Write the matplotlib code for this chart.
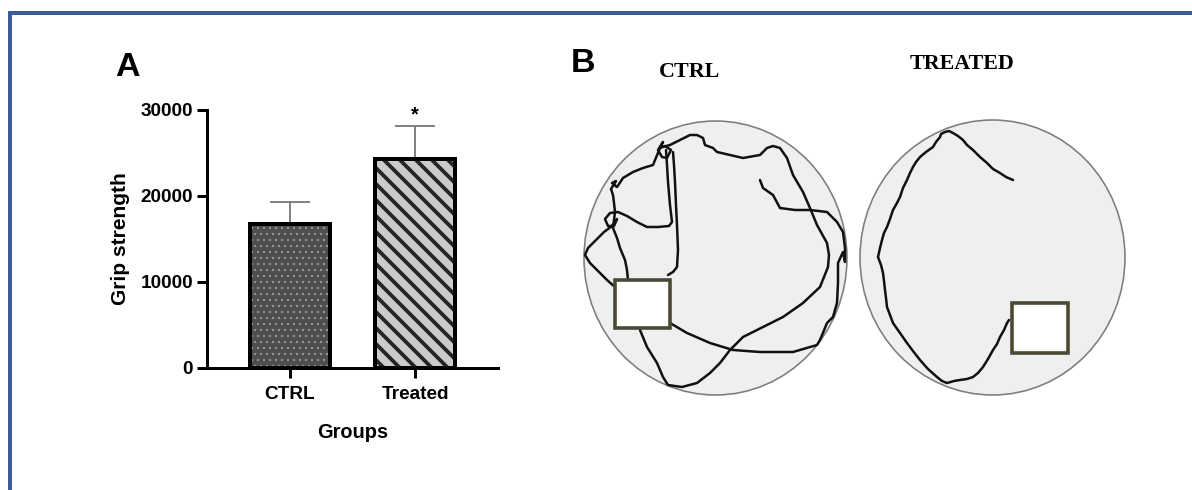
import matplotlib
matplotlib.use("Agg")
import matplotlib.pyplot as plt
from matplotlib.patches import Ellipse, Rectangle
from matplotlib.lines import Line2D

# ---------------- data ----------------
groups = ["CTRL", "Treated"]
grip_mean = [16700, 24300]
grip_err = [2600, 3850]
y_ticks = [0, 10000, 20000, 30000]

# open-field tracking traces (image pixel coordinates)
ctrl_trace1_x = [640, 647, 657, 663, 668, 682, 697, 710, 720, 730, 743, 763, 783, 803, 820, 828, 829,
                 827, 817, 810, 803, 793, 787, 780, 773, 767, 760, 743, 730, 717, 713, 705, 703, 697,
                 690, 680, 670, 663]
ctrl_trace1_y = [330, 347, 363, 377, 385, 387, 383, 373, 363, 350, 337, 327, 317, 303, 287, 267, 255,
                 243, 225, 208, 192, 175, 158, 148, 146, 148, 155, 158, 155, 152, 148, 145, 138, 135,
                 135, 140, 145, 147]
ctrl_trace2_x = [666, 667, 668, 670, 672, 669, 658, 647, 637, 627, 618, 610, 605, 608, 614, 617,
                 612, 604, 596, 588, 585, 590, 597, 607, 615]
ctrl_trace2_y = [150, 165, 182, 205, 222, 226, 227, 227, 222, 216, 212, 213, 219, 226, 226, 219,
                 226, 232, 240, 248, 255, 263, 270, 280, 287]
ctrl_trace3_x = [673, 674, 675, 676, 677, 678, 677, 673, 668]
ctrl_trace3_y = [152, 165, 182, 205, 225, 250, 267, 272, 275]
ctrl_trace4_x = [660, 663, 658, 662, 667, 671, 665, 660, 653, 643, 633, 623, 617, 612, 616, 611,
                 613, 614, 615, 613, 617, 620, 625, 627, 628]
ctrl_trace4_y = [148, 142, 150, 157, 158, 150, 146, 148, 165, 168, 172, 178, 187, 183, 181, 189,
                 195, 203, 212, 228, 238, 248, 260, 270, 280]
ctrl_trace5_x = [760, 763, 773, 780, 795, 810, 827, 837, 843, 845, 845, 843, 838, 838, 837, 833,
                 827, 820, 817, 793, 760, 733, 710, 687, 670]
ctrl_trace5_y = [180, 188, 195, 208, 210, 210, 212, 222, 232, 248, 262, 252, 263, 283, 303, 317,
                 323, 340, 345, 352, 352, 350, 343, 333, 323]

treat_trace_x = [1013, 1006, 1000, 993, 987, 980, 973, 967, 963, 958, 953, 949, 945, 941, 940, 936,
                 933, 926, 920, 916, 913, 910, 907, 903, 900, 897, 893, 890, 887, 884, 882, 880,
                 878, 881, 883, 884, 885, 886, 887, 890, 893, 900, 907, 913, 920, 928, 937, 942,
                 947, 954, 960, 967, 973, 978, 983, 988, 993, 997, 1000, 1004, 1007, 1009]
treat_trace_y = [180, 177, 173, 169, 163, 157, 150, 145, 140, 136, 133, 131, 132, 134, 137, 142,
                 147, 152, 157, 162, 167, 173, 180, 188, 197, 203, 210, 219, 227, 233, 240, 248,
                 257, 265, 273, 281, 290, 298, 307, 315, 323, 333, 343, 351, 360, 369, 377, 381,
                 383, 381, 380, 379, 377, 373, 367, 359, 350, 344, 337, 330, 323, 320]

# arenas and shelters (image pixel coordinates)
arena_ctrl = (715.5, 258, 263, 274)
arena_treat = (992.5, 257.5, 265, 275)
shelter_ctrl = (615, 280, 55, 48)
shelter_treat = (1012, 303, 56, 50)

# ---------------- figure ----------------
W, H, DPI = 1192, 490, 144
fig = plt.figure(figsize=(W / DPI, H / DPI), dpi=DPI)
fig.patch.set_facecolor("white")
plt.rcParams["font.family"] = ["Liberation Sans", "DejaVu Sans"]

def px_rect(x0, y0, x1, y1):
    return [x0 / W, 1 - y1 / H, (x1 - x0) / W, (y1 - y0) / H]

# border (blue frame, left and top)
border_col = "#3b5a98"
fig.add_artist(Line2D([9.5 / W, 9.5 / W], [0, 1 - 11 / H], transform=fig.transFigure,
                      color=border_col, lw=2.0, solid_capstyle="butt"))
fig.add_artist(Line2D([8 / W, 1], [1 - 13 / H, 1 - 13 / H], transform=fig.transFigure,
                      color=border_col, lw=2.0, solid_capstyle="butt"))

# ---------------- panel A ----------------
ax = fig.add_axes(px_rect(207, 110, 498, 368))
xpos = [0, 1]
bw = 0.64
with plt.rc_context({"hatch.linewidth": 0.5}):
    ax.bar(xpos[0], grip_mean[0], width=bw, facecolor="#4e4e4e", edgecolor="#9a9a9a",
           linewidth=0, hatch="....", zorder=2)
with plt.rc_context({"hatch.linewidth": 1.9}):
    ax.bar(xpos[1], grip_mean[1], width=bw, facecolor="#cbcbcb", edgecolor="#262626",
           linewidth=0, hatch="\\\\\\", zorder=2)
ax.bar(xpos, grip_mean, width=bw, fill=False, edgecolor="black", linewidth=2.0, zorder=3)
ax.errorbar(xpos, grip_mean, yerr=[[0, 0], grip_err], fmt="none", ecolor="#767676",
            elinewidth=0.9, capsize=10, capthick=0.9, zorder=1)
ax.annotate("*", xy=(xpos[1], grip_mean[1] + grip_err[1]), xytext=(0, 1),
            textcoords="offset points", ha="center", va="bottom", fontsize=10,
            fontweight="bold")

ax.set_xlim(-0.664, 1.664)
ax.set_ylim(0, 30000)
ax.set_yticks(y_ticks)
ax.set_yticklabels([str(v) for v in y_ticks])
ax.set_xticks(xpos)
ax.set_xticklabels(groups)
for s in ["top", "right"]:
    ax.spines[s].set_visible(False)
for s in ["left", "bottom"]:
    ax.spines[s].set_linewidth(1.5)
ax.tick_params(axis="both", length=5, width=1.5, labelsize=9.5, pad=2)
ax.tick_params(axis="x", pad=4)
for t in ax.get_xticklabels() + ax.get_yticklabels():
    t.set_fontweight("bold")
ax.set_ylabel("Grip strength", fontsize=10.5, fontweight="bold", labelpad=5)
ax.set_xlabel("Groups", fontsize=10, fontweight="bold", labelpad=10)
ax.set_facecolor("none")

fig.text(127 / W, 1 - 67 / H, "A", fontsize=17, fontweight="bold", ha="center", va="center")
fig.text(583 / W, 1 - 63 / H, "B", fontsize=17, fontweight="bold", ha="center", va="center")

# ---------------- panel B ----------------
bx = fig.add_axes(px_rect(570, 105, 1150, 405))
bx.set_xlim(570, 1150)
bx.set_ylim(405, 105)
bx.axis("off")

for (cx, cy, w, h) in [arena_ctrl, arena_treat]:
    bx.add_patch(Ellipse((cx, cy), w, h, facecolor="#efefef", edgecolor="#7d7d7d",
                         linewidth=0.8, zorder=1))

trace_kw = dict(color="#111111", linewidth=1.25, solid_joinstyle="round",
                solid_capstyle="round", zorder=2)
for tx, ty in [(ctrl_trace1_x, ctrl_trace1_y), (ctrl_trace2_x, ctrl_trace2_y),
               (ctrl_trace3_x, ctrl_trace3_y), (ctrl_trace4_x, ctrl_trace4_y),
               (ctrl_trace5_x, ctrl_trace5_y), (treat_trace_x, treat_trace_y)]:
    bx.plot(tx, ty, **trace_kw)

for (x0, y0, w, h) in [shelter_ctrl, shelter_treat]:
    bx.add_patch(Rectangle((x0, y0), w, h, facecolor="white", edgecolor="#4b4833",
                           linewidth=1.8, zorder=3))

fig.text(690 / W, 1 - 72 / H, "CTRL", fontsize=11, fontweight="bold",
         family=["Liberation Serif", "DejaVu Serif"], ha="center", va="center")
fig.text(962 / W, 1 - 64 / H, "TREATED", fontsize=11, fontweight="bold",
         family=["Liberation Serif", "DejaVu Serif"], ha="center", va="center")

fig.savefig("out.png", dpi=DPI)
